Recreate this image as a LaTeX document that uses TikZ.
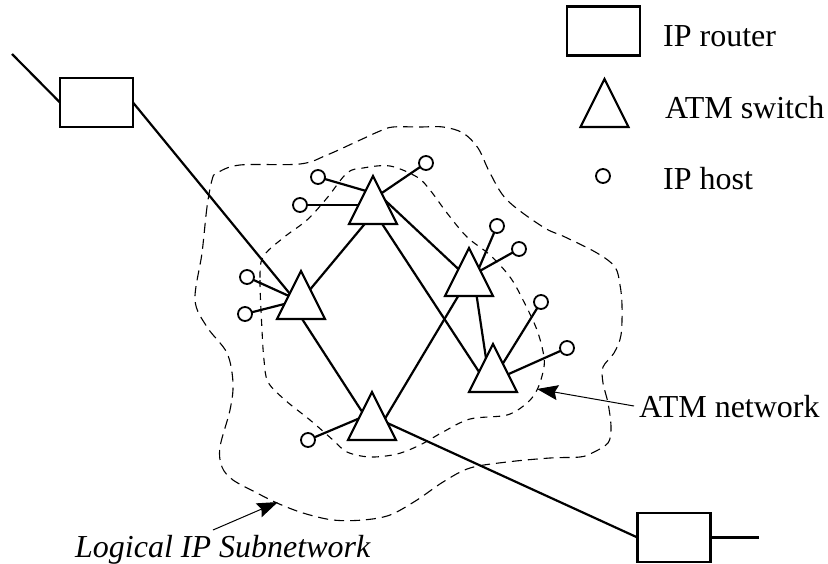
\documentclass[tikz,border=0pt]{standalone}
\usepackage{fontspec}
\setmainfont{Liberation Serif}
\usetikzlibrary{shapes.geometric,arrows.meta,backgrounds}
\tikzset{
  x=1pt,y=-1pt,
  switchnode/.style={isosceles triangle,isosceles triangle stretches,shape border rotate=90,
    minimum width=48pt,minimum height=48pt,inner sep=0pt,outer sep=0pt,draw,line width=2.1pt,fill=white,anchor=lower side,miter limit=4},
  routernode/.style={rectangle,draw,line width=2.2pt,fill=white,minimum width=73pt,minimum height=49pt,inner sep=0pt,outer sep=0pt},
  hostnode/.style={circle,draw,line width=1.8pt,fill=white,minimum size=14pt,inner sep=0pt,outer sep=0pt},
  label/.style={anchor=base west,inner sep=0pt,font=\fontsize{32}{36}\selectfont},
  linkline/.style={line width=2.2pt},
  pointer/.style={line width=1pt,-{Stealth[length=21pt,width=15pt,inset=3pt]}},
  lis/.style={line width=1.1pt,dash pattern=on 10pt off 6pt},
  atmnet/.style={line width=1.1pt,dash pattern=on 7pt off 6pt},
}
\begin{document}
\begin{tikzpicture}
\useasboundingbox (0,0) rectangle (828,563);
% legend
\node[routernode] (legR) at (603.5,31) {};
\node[switchnode] (legT) at (604.5,127) {};
\node[hostnode] (legH) at (603,176) {};
\node[label] (t1) at (663,46) {IP router};
\node[label] (t2) at (665,118) {ATM switch};
\node[label] (t3) at (663,189) {IP host};
\node[label] (t4) at (639,417) {ATM network};
\node[label,font=\fontsize{32}{36}\selectfont\itshape] (t5) at (75,557) {Logical IP Subnetwork};
% switches
\node[switchnode] (T1) at (301,319) {};
\node[switchnode] (T2) at (373,224) {};
\node[switchnode] (T3) at (469,296) {};
\node[switchnode] (T4) at (493,392) {};
\node[switchnode] (T5) at (372,440) {};
% routers
\node[routernode] (R1) at (96.5,102.5) {};
\node[routernode] (R2) at (674,537.5) {};
% hosts
\node[hostnode] (H1) at (318,177) {};
\node[hostnode] (H2) at (300,205) {};
\node[hostnode] (H3) at (426,163) {};
\node[hostnode] (H4) at (497,226) {};
\node[hostnode] (H5) at (519,249) {};
\node[hostnode] (H6) at (541,302) {};
\node[hostnode] (H7) at (567,348) {};
\node[hostnode] (H8) at (247,277) {};
\node[hostnode] (H9) at (245,314) {};
\node[hostnode] (H10) at (308,440) {};
% free ends
\coordinate (inL) at (12,54);
\coordinate (outR) at (759,537.5);
\coordinate (atmTip) at (537,389);
\coordinate (atmTail) at (634,406);
\coordinate (lisTip) at (278,502);
\coordinate (lisTail) at (213,530);
\begin{scope}[on background layer]
\draw[lis] plot[smooth cycle,tension=0.55] coordinates {
 (212,180) (207,207) (202,253) (195,300) (207,327) (227,353) (233,383) (230,410) (220,447)
 (222,467) (233,480) (257,493) (277,503) (303,513) (333,520) (363,520) (390,515) (417,500)
 (443,482) (470,468) (507,462) (550,458) (580,457) (592,453) (608,443) (611,427) (608,403)
 (603,383) (603,367) (614,353) (621,335) (622,305) (620,285) (615,267) (597,253) (565,237)
 (543,227) (507,200) (490,173) (478,148) (463,133) (443,127) (420,127) (393,127) (380,131)
 (358,141) (327,155) (300,164) (240,165) (217,173)};
\draw[atmnet] plot[smooth cycle,tension=0.55] coordinates {
 (263,257) (260,280) (262,330) (264,360) (268,382) (285,400) (310,420) (333,440) (347,452)
 (370,457) (397,454) (420,445) (443,432) (470,419) (507,415) (527,403) (537,390) (543,372)
 (544,357) (537,330) (523,300) (510,277) (490,255) (467,237) (447,213) (430,190) (417,177)
 (390,166) (363,168) (347,173) (327,198) (307,220) (283,238)};
% links between switches
\draw[linkline] ([shift={(2,-21)}]T1.lower side) -- ([shift={(0,-10)}]T2.lower side);
\draw[linkline] ([shift={(2,-11)}]T2.lower side) -- ([shift={(-8,-11)}]T4.lower side);
\draw[linkline] ([shift={(0,-35)}]T2.lower side) -- ([shift={(0,-17)}]T3.lower side);
\draw[linkline] ([shift={(6,-11)}]T3.lower side) -- ([shift={(-6,-27)}]T4.lower side);
\draw[linkline] ([shift={(-3,-13)}]T3.lower side) -- ([shift={(8,-13)}]T5.lower side);
\draw[linkline] ([shift={(-6,-11)}]T1.lower side) -- ([shift={(-2,-16)}]T5.lower side);
% router links
\draw[linkline] (inL) -- (R1.west);
\draw[linkline] (R1.east) -- ([shift={(-6,-19)}]T1.lower side);
\draw[linkline] ([shift={(0,-24)}]T5.lower side) -- (R2.west);
\draw[linkline] (R2.east) -- (outR);
% host links
\draw[linkline] (H1) -- ([shift={(0,-31)}]T2.lower side);
\draw[linkline] (H2) -- ([shift={(0,-19)}]T2.lower side);
\draw[linkline] (H3) -- ([shift={(0,-25)}]T2.lower side);
\draw[linkline] (H4) -- ([shift={(7,-21)}]T3.lower side);
\draw[linkline] (H5) -- ([shift={(0,-19)}]T3.lower side);
\draw[linkline] (H6) -- ([shift={(4,-19)}]T4.lower side);
\draw[linkline] (H7) -- ([shift={(0,-11)}]T4.lower side);
\draw[linkline] (H8) -- ([shift={(-1,-18)}]T1.lower side);
\draw[linkline] (H9) -- ([shift={(-1,-19)}]T1.lower side);
\draw[linkline] (H10) -- ([shift={(0,-27)}]T5.lower side);
\end{scope}
% pointers
\draw[pointer] (atmTail) -- (atmTip);
\draw[pointer] (lisTail) -- (lisTip);
\end{tikzpicture}
\end{document}
